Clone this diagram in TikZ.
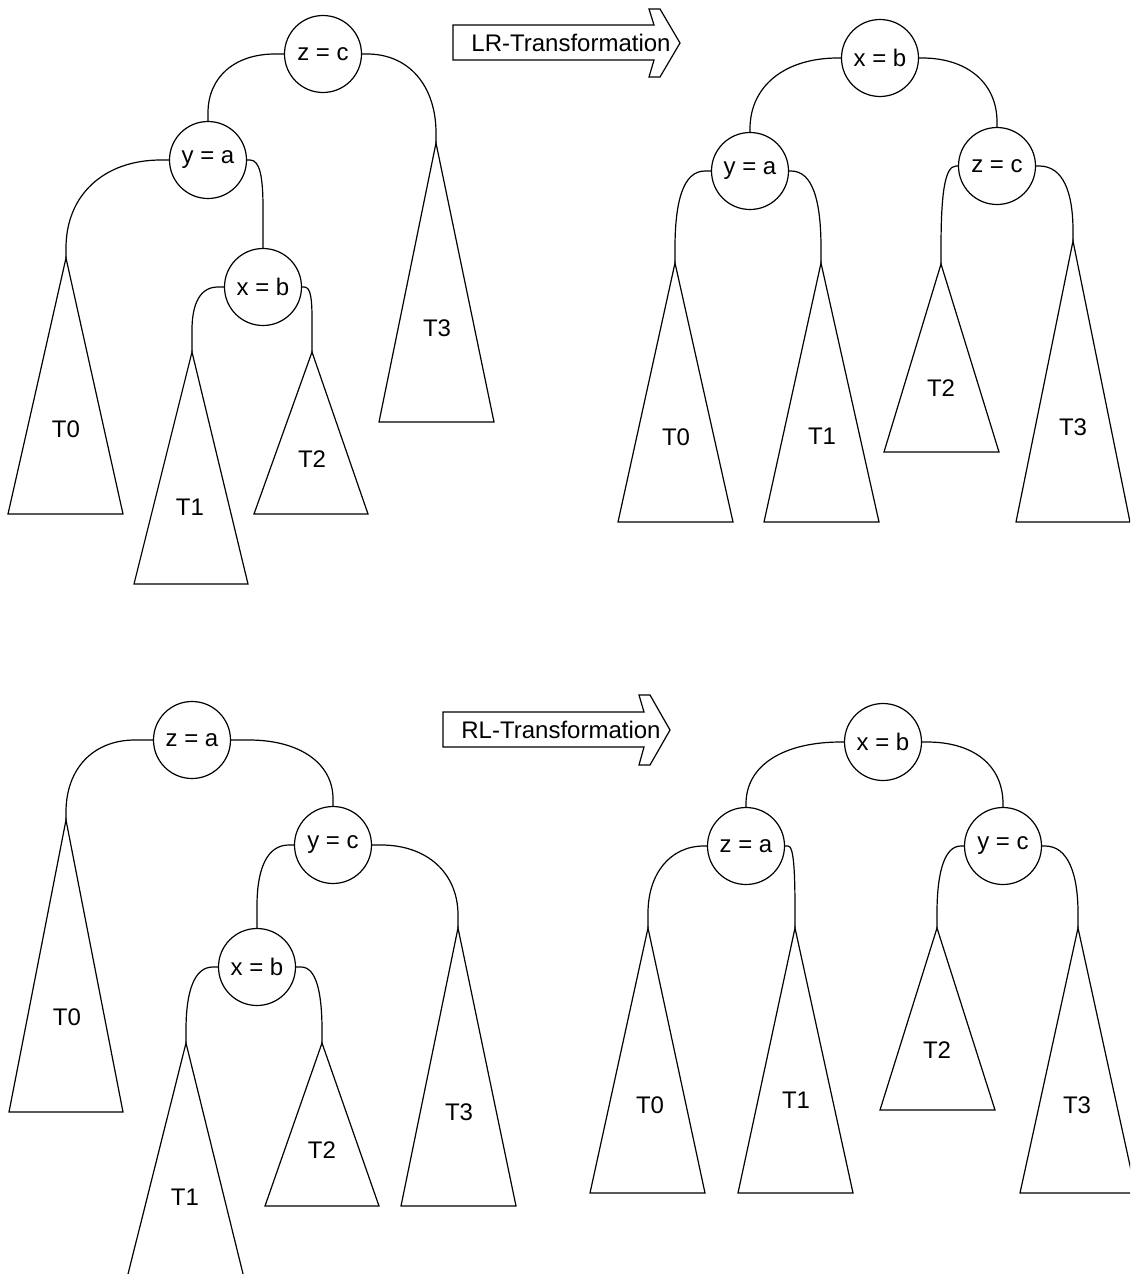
\documentclass[tikz,border=0pt]{standalone}
\usepackage{fontspec}
\setmainfont{Liberation Sans}
\usetikzlibrary{calc}
\begin{document}
\begin{tikzpicture}[x=1pt,y=-1pt,
  every node/.style={font=\fontsize{24}{28}\selectfont, inner sep=0pt},
  vtx/.style={draw, circle, minimum size=77pt, inner sep=0pt, line width=1.2pt},
  tri/.style={draw, line width=1.2pt},
  conn/.style={draw, line width=1.2pt},
  arr/.style={draw, line width=1.2pt}
]
\useasboundingbox (0,0) rectangle (1130,1274);
\clip (0,0) rectangle (1130,1274);

% ================= top-left tree =================
\node[vtx] (tlz) at (323,54) {z = c};
\node[vtx] (tly) at (208,160) {y = a};
\node[vtx] (tlx) at (263,287) {x = b};
\coordinate (tlA0) at (66,258);
\coordinate (tlA1) at (192,352);
\coordinate (tlA2) at (312,352);
\coordinate (tlA3) at (436,143);
\draw[tri] (tlA0) -- (8,514) -- (123,514) -- cycle;
\draw[tri] (tlA1) -- (134,584) -- (248,584) -- cycle;
\draw[tri] (tlA2) -- (254,514) -- (368,514) -- cycle;
\draw[tri] (tlA3) -- (379,422) -- (494,422) -- cycle;
\node (tlL0) at (66,429) {T0};
\node (tlL1) at (190,507) {T1};
\node (tlL2) at (312,459) {T2};
\node (tlL3) at (437,328) {T3};
\draw[conn] (tlz.west) -- ++(-9,0) .. controls +(-40,0) and +(0,-36) .. ($(tly.north)+(0,-8)$) -- (tly.north);
\draw[conn] (tlz.east) -- ++(5,0) .. controls +(42,0) and +(0,-47) .. ($(tlA3)+(0,-10)$) -- (tlA3);
\draw[conn] (tly.west) -- ++(-8,0) .. controls +(-57,0) and +(0,-53) .. ($(tlA0)+(0,-10)$) -- (tlA0);
\draw[conn] (tly.east) -- ++(3,0) .. controls +(10,0) and +(0,-30) .. ($(tlx.north)+(0,-40)$) -- (tlx.north);
\draw[conn] (tlx.west) -- ++(-6,0) .. controls +(-18,0) and +(0,-26) .. ($(tlA1)+(0,-22)$) -- (tlA1);
\draw[conn] (tlx.east) -- ++(2,0) .. controls +(7,0) and +(0,-20) .. ($(tlA2)+(0,-32)$) -- (tlA2);

% ================= LR arrow =================
\draw[arr] (453,25) -- (654,25) -- (649,9) -- (660,9) -- (680,43) -- (660,77) -- (649,77) -- (654,60) -- (453,60) -- cycle;
\node (lrT) at (571,43) {LR-Transformation};

% ================= top-right tree =================
\node[vtx] (trx) at (880,58) {x = b};
\node[vtx] (try) at (750,171) {y = a};
\node[vtx] (trz) at (997,166) {z = c};
\coordinate (trA0) at (675,263);
\coordinate (trA1) at (821,263);
\coordinate (trA2) at (941,264);
\coordinate (trA3) at (1073,241);
\draw[tri] (trA0) -- (618,522) -- (733,522) -- cycle;
\draw[tri] (trA1) -- (764,522) -- (879,522) -- cycle;
\draw[tri] (trA2) -- (884,452) -- (999,452) -- cycle;
\draw[tri] (trA3) -- (1016,522) -- (1130,522) -- cycle;
\node (trL0) at (676,437) {T0};
\node (trL1) at (822,436) {T1};
\node (trL2) at (941,388) {T2};
\node (trL3) at (1073,427) {T3};
\draw[conn] (trx.west) -- ++(-3,0) .. controls +(-53,0) and +(0,-43) .. ($(try.north)+(0,-3)$) -- (try.north);
\draw[conn] (trx.east) -- ++(3,0) .. controls +(45,0) and +(0,-39) .. ($(trz.north)+(0,-5)$) -- (trz.north);
\draw[conn] (try.west) -- ++(-6,0) .. controls +(-22,0) and +(0,-46) .. ($(trA0)+(0,-15)$) -- (trA0);
\draw[conn] (try.east) -- ++(2,0) .. controls +(22,0) and +(0,-46) .. ($(trA1)+(0,-15)$) -- (trA1);
\draw[conn] (trz.west) -- ++(-2,0) .. controls +(-12,0) and +(0,-50) .. ($(trA2)+(0,-15)$) -- (trA2);
\draw[conn] (trz.east) -- ++(3,0) .. controls +(24,0) and +(0,-39) .. ($(trA3)+(0,-10)$) -- (trA3);

% ================= bottom-left tree =================
\node[vtx] (blz) at (192,740) {z = a};
\node[vtx] (bly) at (333,845) {y = c};
\node[vtx] (blx) at (257,967) {x = b};
\coordinate (blA0) at (66,820);
\coordinate (blA1) at (186,1043);
\coordinate (blA2) at (322,1043);
\coordinate (blA3) at (458,928);
\draw[tri] (blA0) -- (9,1112) -- (123,1112) -- cycle;
\draw[tri] (blA1) -- (124,1290) -- (247,1290) -- cycle;
\draw[tri] (blA2) -- (265,1206) -- (379,1206) -- cycle;
\draw[tri] (blA3) -- (401,1206) -- (516,1206) -- cycle;
\node (blL0) at (67,1017) {T0};
\node (blL1) at (185,1197) {T1};
\node (blL2) at (322,1150) {T2};
\node (blL3) at (459,1112) {T3};
\draw[conn] (blz.west) -- ++(-18,0) .. controls +(-42,0) and +(0,-43) .. ($(blA0)+(0,-8)$) -- (blA0);
\draw[conn] (blz.east) -- ++(18,0) .. controls +(50,0) and +(0,-36) .. ($(bly.north)+(0,-7)$) -- (bly.north);
\draw[conn] (bly.west) -- ++(-5,0) .. controls +(-22,0) and +(0,-37) .. ($(blx.north)+(0,-22)$) -- (blx.north);
\draw[conn] (bly.east) -- ++(9,0) .. controls +(46,0) and +(0,-42) .. ($(blA3)+(0,-13)$) -- (blA3);
\draw[conn] (blx.west) -- ++(-5,0) .. controls +(-19,0) and +(0,-38) .. ($(blA1)+(0,-13)$) -- (blA1);
\draw[conn] (blx.east) -- ++(5,0) .. controls +(15,0) and +(0,-38) .. ($(blA2)+(0,-13)$) -- (blA2);

% ================= RL arrow =================
\draw[arr] (443,712) -- (644,712) -- (639,695) -- (650,695) -- (670,730) -- (650,765) -- (639,765) -- (644,747) -- (443,747) -- cycle;
\node (rlT) at (561,730) {RL-Transformation};

% ================= bottom-right tree =================
\node[vtx] (brx) at (883,742) {x = b};
\node[vtx] (brz) at (746,846) {z = a};
\node[vtx] (bry) at (1003,846) {y = c};
\coordinate (brA0) at (648,928);
\coordinate (brA1) at (795,928);
\coordinate (brA2) at (937,928);
\coordinate (brA3) at (1078,928);
\draw[tri] (brA0) -- (590,1193) -- (705,1193) -- cycle;
\draw[tri] (brA1) -- (738,1193) -- (853,1193) -- cycle;
\draw[tri] (brA2) -- (880,1110) -- (995,1110) -- cycle;
\draw[tri] (brA3) -- (1020,1193) -- (1136,1193) -- cycle;
\node (brL0) at (650,1105) {T0};
\node (brL1) at (796,1100) {T1};
\node (brL2) at (937,1050) {T2};
\node (brL3) at (1077,1105) {T3};
\draw[conn] (brx.west) -- ++(-3,0) .. controls +(-57,0) and +(0,-39) .. ($(brz.north)+(0,-3)$) -- (brz.north);
\draw[conn] (brx.east) -- ++(5,0) .. controls +(46,0) and +(0,-39) .. ($(bry.north)+(0,-3)$) -- (bry.north);
\draw[conn] (brz.west) -- ++(-3,0) .. controls +(-34,0) and +(0,-39) .. ($(brA0)+(0,-15)$) -- (brA0);
\draw[conn] (brz.east) -- ++(3,0) .. controls +(6,0) and +(0,-39) .. ($(brA1)+(0,-15)$) -- (brA1);
\draw[conn] (bry.west) -- ++(-3,0) .. controls +(-17,0) and +(0,-39) .. ($(brA2)+(0,-15)$) -- (brA2);
\draw[conn] (bry.east) -- ++(3,0) .. controls +(23,0) and +(0,-39) .. ($(brA3)+(0,-15)$) -- (brA3);
\end{tikzpicture}
\end{document}
